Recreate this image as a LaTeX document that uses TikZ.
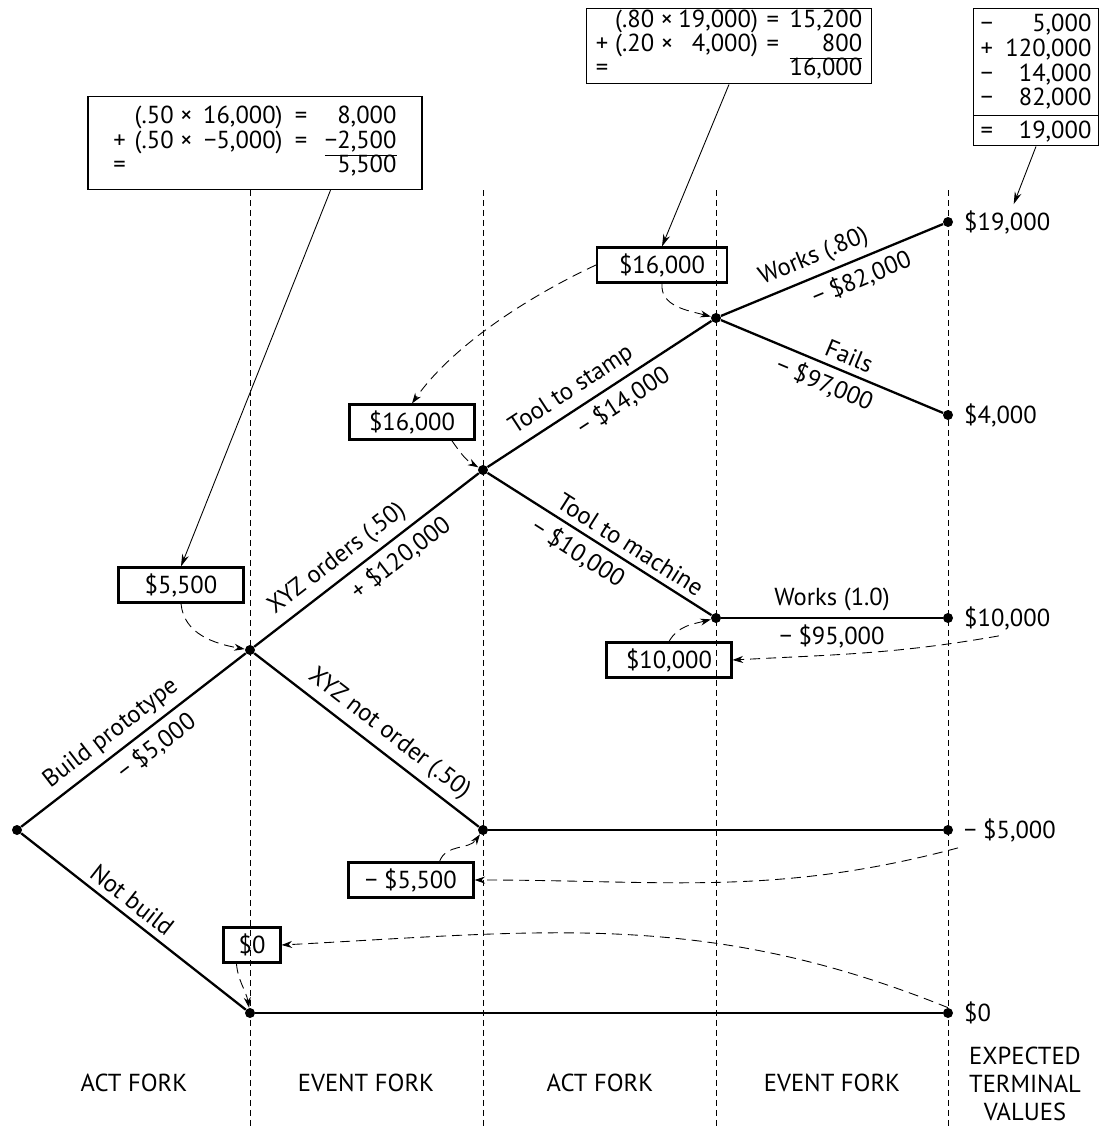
\documentclass[tikz,border=0pt]{standalone}
\usepackage{fontspec}
\setmainfont{PT Sans}
\usetikzlibrary{arrows.meta}

\begin{document}
\begin{tikzpicture}[x=0.02cm, y=0.02cm, font=\fontsize{14}{15}\selectfont,
    dot/.style={circle, fill, inner sep=0pt, minimum size=0.2cm},
    branch/.style={line width=1.3pt},
    lab/.style={sloped, inner sep=3.5pt},
    valbox/.style={rectangle, draw, line width=1.2pt, minimum width=2.5cm,
                   minimum height=0.7cm, inner sep=2pt},
    calcbox/.style={rectangle, draw, line width=0.8pt, inner sep=0pt},
    guide/.style={dash pattern=on 0.12cm off 0.08cm, line width=0.4pt},
    rollback/.style={-{Stealth[length=6pt,width=4pt]}, line width=0.5pt,
                     dash pattern=on 0.2cm off 0.12cm},
    pointer/.style={-{Stealth[length=7pt,width=4pt]}, line width=0.5pt}]

\useasboundingbox (0,0) rectangle (1102,-1126);

% Fork columns
\foreach \x in {250,483,716,948}
  \draw[guide] (\x,-190) -- (\x,-1126);

% Decision points
\node[dot] (root) at (17,-830) {};
\node[dot] (A) at (250,-650) {};
\node[dot] (B) at (483,-470) {};
\node[dot] (C) at (716,-318) {};
\node[dot] (D) at (716,-618) {};
\node[dot] (E) at (483,-830) {};
\node[dot] (F) at (250,-1013) {};
\node[dot] (T1) at (948,-222) {};
\node[dot] (T2) at (948,-415) {};
\node[dot] (T3) at (948,-618) {};
\node[dot] (T4) at (948,-830) {};
\node[dot] (T5) at (948,-1013) {};

% Terminal values
\node[anchor=west] (t1lab) at (958,-222) {\$19,000};
\node[anchor=west] (t2lab) at (958,-415) {\$4,000};
\node[anchor=west] (t3lab) at (958,-618) {\$10,000};
\node[anchor=west] (t4lab) at (958,-830) {− \$5,000};
\node[anchor=west] (t5lab) at (958,-1013) {\$0};

% Branches
\draw[branch] (root) -- node[lab, above, pos=0.45] {Build prototype}
                        node[lab, below, pos=0.55] {− \$5,000} (A);
\draw[branch] (root) -- node[lab, above, pos=0.45] {Not build} (F);
\draw[branch] (A) -- node[lab, above, pos=0.42] {XYZ orders (.50)}
                     node[lab, below, pos=0.6] {+ \$120,000} (B);
\draw[branch] (A) -- node[lab, above, pos=0.55] {XYZ not order (.50)} (E);
\draw[branch] (B) -- node[lab, above, pos=0.42] {Tool to stamp}
                     node[lab, below, pos=0.56] {− \$14,000} (C);
\draw[branch] (B) -- node[lab, above, pos=0.6] {Tool to machine}
                     node[lab, below, pos=0.45] {− \$10,000} (D);
\draw[branch] (C) -- node[lab, above, pos=0.45] {Works (.80)}
                     node[lab, below, pos=0.6] {− \$82,000} (T1);
\draw[branch] (C) -- node[lab, above, pos=0.55] {Fails}
                     node[lab, below, pos=0.5] {− \$97,000} (T2);
\draw[branch] (D) -- node[lab, above] {Works (1.0)}
                     node[lab, below] {− \$95,000} (T3);
\draw[branch] (E) -- (T4);
\draw[branch] (F) -- (T5);

% Rolled-back values
\node[valbox, minimum width=2.6cm] (b16a) at (662,-265) {\$16,000};
\node[valbox] (b16b) at (412,-422) {\$16,000};
\node[valbox] (b55) at (181,-585) {\$5,500};
\node[valbox] (b10) at (669,-660) {\$10,000};
\node[valbox] (bm55) at (411,-880) {− \$5,500};
\node[valbox, minimum width=1.14cm] (b0) at (252,-945) {\$0};

\draw[rollback] (b16a.west) to[out=205,in=55,looseness=0.8] (b16b.north);
\draw[rollback] (b16a.south) to[out=-95,in=165] (C);
\draw[rollback] (b16b.-25) to[out=-55,in=150] (B);
\draw[rollback] (b55.south) to[out=-85,in=170] (A);
\draw[rollback] (b10.north) to[out=60,in=195] (D);
\draw[rollback] (t3lab.-115) to[out=190,in=3] (b10.east);
\draw[rollback] (bm55.33) to[out=70,in=235] (E);
\draw[rollback] (t4lab.south west) to[out=195,in=0] (bm55.east);
\draw[rollback] (b0.-130) to[out=-85,in=100] (F);
\draw[rollback] (T5.north) to[out=158,in=3] (b0.east);

% Calculations
\node[calcbox, minimum width=6.68cm, minimum height=1.86cm] (f1) at (255,-143) {%
  \renewcommand{\arraystretch}{0.9}%
  \begin{tabular}{@{}l@{\hspace{5pt}}l@{\hspace{6pt}}r@{\hspace{7pt}}c@{\hspace{10pt}}r@{}}
    & (.50 × & 16,000) & = & 8,000 \\
  + & (.50 × & −5,000) & = & −2,500 \\ \cline{5-5}
  = & & & & 5,500
  \end{tabular}};
\node[calcbox, minimum width=5.7cm, inner ysep=1pt, anchor=north] (f2) at (729,-8) {%
  \renewcommand{\arraystretch}{0.8}%
  \begin{tabular}{@{}l@{\hspace{4pt}}l@{\hspace{3pt}}r@{\hspace{5pt}}c@{\hspace{6pt}}r@{}}
    & (.80 × & 19,000) & = & 15,200 \\
  + & (.20 × & 4,000) & = & 800 \\ \cline{5-5}
  = & & & & 16,000
  \end{tabular}};
\node[calcbox, anchor=north] (f3) at (1036,-8) {%
  \renewcommand{\arraystretch}{0.92}%
  \begin{tabular*}{2.5cm}{@{\hspace{4pt}}l@{\hspace{6pt}\extracolsep{\fill}}r@{\hspace{4pt}}}
  \rule{0pt}{13pt}− & 5,000 \\
  + & 120,000 \\
  − & 14,000 \\
  − & 82,000 \\[1pt] \hline
  \rule{0pt}{13pt}= & 19,000
  \end{tabular*}};

\draw[pointer] (f1.-32) -- (b55.north);
\draw[pointer] (f2.south) -- (b16a.north);
\draw[pointer] (f3.south) -- (t1lab.70);

% Column titles
\node (c1) at (134,-1083) {ACT FORK};
\node (c2) at (366,-1083) {EVENT FORK};
\node (c3) at (600,-1083) {ACT FORK};
\node (c4) at (832,-1083) {EVENT FORK};
\node[align=center, font=\fontsize{14}{16}\selectfont] (c5) at (1025,-1084)
  {EXPECTED\\TERMINAL\\VALUES};
\end{tikzpicture}
\end{document}
